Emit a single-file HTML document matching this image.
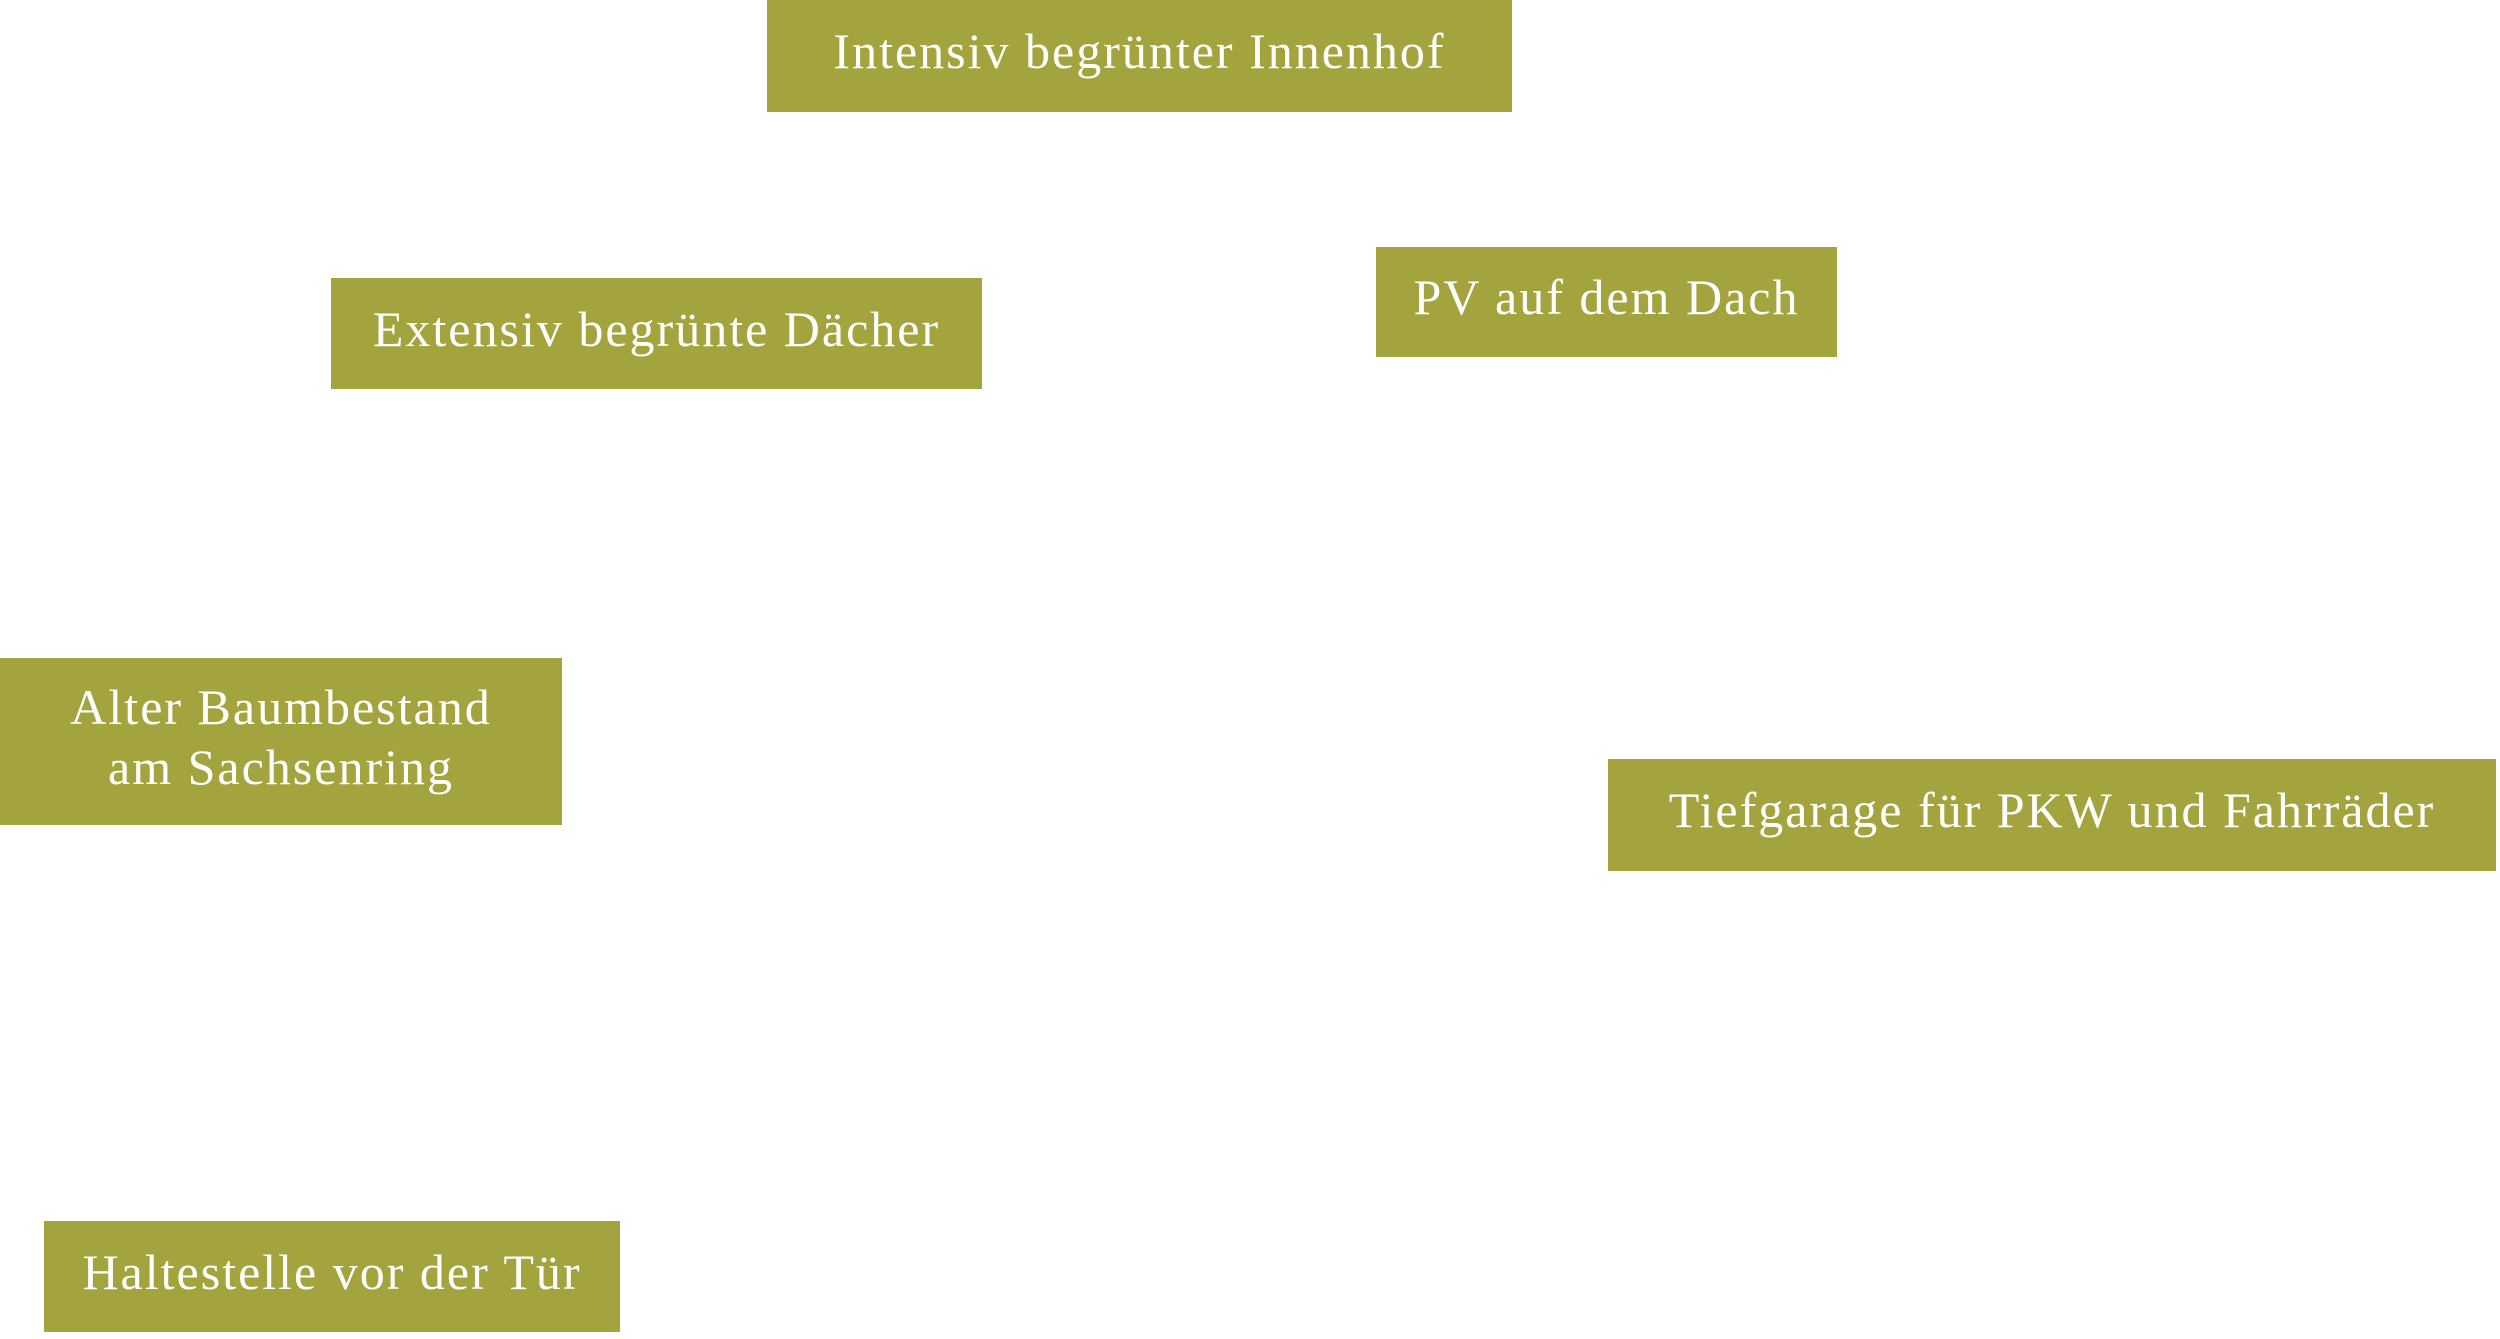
<!DOCTYPE html>
<html>
<head>
<meta charset="utf-8">
<style>
html,body{margin:0;padding:0;background:#fff;}
body{width:2500px;height:1339px;position:relative;overflow:hidden;}
.b{position:absolute;background:#a3a43d;color:#fff;font-family:"Liberation Serif",serif;font-size:50px;display:flex;align-items:center;justify-content:center;text-align:center;line-height:1.2;letter-spacing:2px;box-sizing:border-box;padding-bottom:10px;}
</style>
</head>
<body>
<div class="b" style="left:767px;top:0;width:745px;height:112px;">Intensiv begrünter Innenhof</div>
<div class="b" style="left:331px;top:278px;width:651px;height:111px;">Extensiv begrünte Dächer</div>
<div class="b" style="left:1376px;top:247px;width:461px;height:110px;">PV auf dem Dach</div>
<div class="b" style="left:0;top:658px;width:562px;height:167px;">Alter Baumbestand<br>am Sachsenring</div>
<div class="b" style="left:1608px;top:759px;width:888px;height:112px;">Tiefgarage für PKW und Fahrräder</div>
<div class="b" style="left:44px;top:1221px;width:576px;height:111px;">Haltestelle vor der Tür</div>
</body>
</html>
